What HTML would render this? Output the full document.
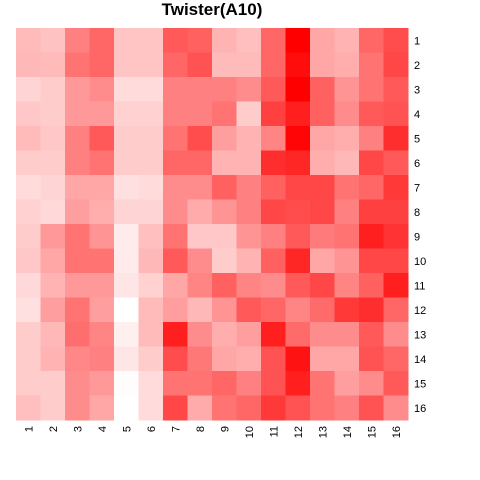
<!DOCTYPE html>
<html><head><meta charset="utf-8"><style>
html,body{margin:0;padding:0;background:#fff;}
svg{display:block;font-family:"Liberation Sans",sans-serif;}
</style></head><body>
<svg id="chart" width="480" height="480">
<text x="212" y="15" text-anchor="middle" font-size="17" font-weight="bold">Twister(A10)</text>
<g id="cells"></g><g id="rowlabels"></g><g id="collabels"></g>
</svg>
<script>
const rowLabels=["1","2","3","4","5","6","7","8","9","10","11","12","13","14","15","16"];
const colLabels=["1","2","3","4","5","6","7","8","9","10","11","12","13","14","15","16"];
const values=[
[0.27,0.24,0.5,0.6,0.23,0.23,0.65,0.62,0.3,0.25,0.6,1.0,0.35,0.3,0.6,0.7],
[0.28,0.27,0.55,0.6,0.23,0.23,0.6,0.68,0.27,0.27,0.6,0.95,0.35,0.32,0.55,0.72],
[0.17,0.2,0.4,0.45,0.14,0.14,0.5,0.5,0.5,0.45,0.65,1.0,0.62,0.42,0.55,0.65],
[0.22,0.2,0.4,0.4,0.18,0.18,0.5,0.5,0.55,0.2,0.75,0.88,0.62,0.45,0.65,0.68],
[0.27,0.22,0.5,0.65,0.2,0.2,0.55,0.7,0.38,0.3,0.48,0.98,0.35,0.32,0.5,0.82],
[0.2,0.2,0.5,0.55,0.2,0.2,0.6,0.6,0.3,0.3,0.82,0.85,0.32,0.28,0.72,0.65],
[0.14,0.17,0.35,0.35,0.12,0.14,0.45,0.45,0.62,0.5,0.62,0.72,0.72,0.55,0.6,0.78],
[0.18,0.15,0.38,0.32,0.17,0.17,0.45,0.33,0.42,0.5,0.72,0.7,0.72,0.5,0.75,0.75],
[0.2,0.4,0.55,0.42,0.08,0.25,0.55,0.22,0.22,0.42,0.5,0.65,0.52,0.55,0.88,0.8],
[0.22,0.35,0.55,0.55,0.08,0.28,0.65,0.45,0.2,0.3,0.62,0.85,0.35,0.42,0.72,0.72],
[0.15,0.3,0.4,0.4,0.1,0.18,0.35,0.48,0.62,0.48,0.45,0.65,0.72,0.48,0.62,0.88],
[0.12,0.38,0.55,0.38,0.0,0.27,0.38,0.28,0.42,0.65,0.6,0.48,0.58,0.78,0.82,0.6],
[0.2,0.28,0.57,0.48,0.06,0.27,0.88,0.45,0.32,0.38,0.88,0.58,0.45,0.45,0.65,0.45],
[0.2,0.3,0.47,0.5,0.1,0.2,0.7,0.53,0.35,0.32,0.68,0.93,0.35,0.35,0.68,0.6],
[0.2,0.2,0.45,0.4,0.01,0.14,0.55,0.55,0.6,0.5,0.68,0.88,0.55,0.38,0.45,0.65],
[0.25,0.2,0.45,0.35,0.0,0.14,0.72,0.33,0.55,0.6,0.78,0.68,0.55,0.5,0.68,0.45]
];
const NS="http://www.w3.org/2000/svg";
const x0=16,x1=408,y0=28,y1=420;
const cw=(x1-x0)/colLabels.length, ch=(y1-y0)/rowLabels.length;
const xPos=i=>x0+i*cw, yPos=j=>y0+j*ch;
const color=v=>{const g=Math.round(255*(1-v));return `rgb(255,${g},${g})`;};
const cells=document.getElementById('cells');
values.forEach((row,r)=>row.forEach((v,c)=>{
  const el=document.createElementNS(NS,'rect');
  el.setAttribute('x',xPos(c));el.setAttribute('y',yPos(r));
  el.setAttribute('width',cw+0.5);el.setAttribute('height',ch+0.5);
  el.setAttribute('fill',color(v));
  
  
  cells.appendChild(el);
}));
const rl=document.getElementById('rowlabels');
rowLabels.forEach((t,r)=>{
  const el=document.createElementNS(NS,'text');
  el.setAttribute('x',414);el.setAttribute('y',yPos(r)+ch/2+4);
  el.setAttribute('font-size','11');el.textContent=t;
  
  
  rl.appendChild(el);
});
const cl=document.getElementById('collabels');
colLabels.forEach((t,c)=>{
  const el=document.createElementNS(NS,'text');
  const x=xPos(c)+cw/2+4, y=426;
  el.setAttribute('x',x);el.setAttribute('y',y);
  el.setAttribute('font-size','11');el.setAttribute('text-anchor','end');
  el.setAttribute('transform',`rotate(-90 ${x} ${y})`);
  el.textContent=t;
  
  
  cl.appendChild(el);
});
</script>
</body></html>
